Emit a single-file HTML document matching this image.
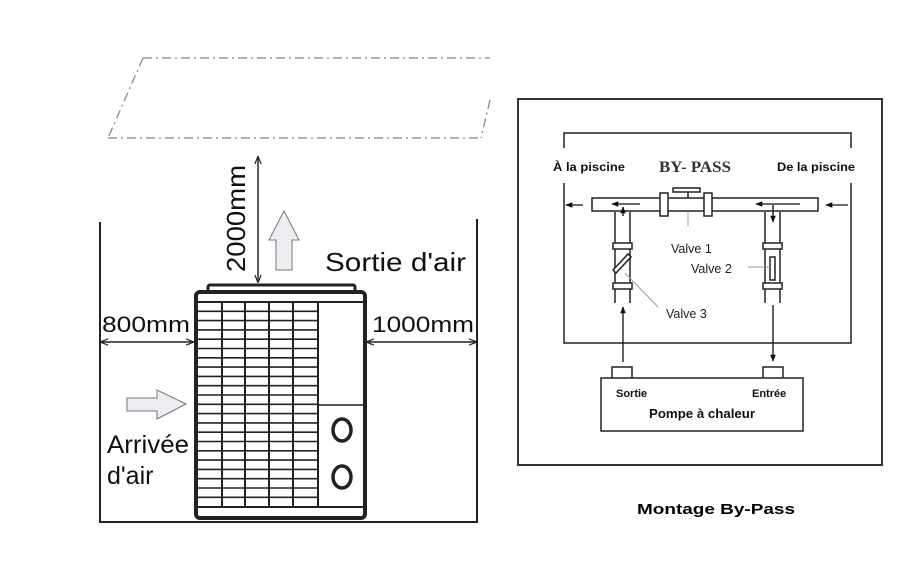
<!DOCTYPE html>
<html><head><meta charset="utf-8"><style>
html,body{margin:0;padding:0;background:#fff;}
svg{display:block;}
.s{font-family:"Liberation Sans",sans-serif;}
.b{font-family:"Liberation Sans",sans-serif;font-weight:bold;}
</style></head><body>
<svg width="920" height="583" viewBox="0 0 920 583" xmlns="http://www.w3.org/2000/svg">
<defs>
<marker id="ah" viewBox="0 0 10 10" refX="9" refY="5" markerWidth="8" markerHeight="8" orient="auto-start-reverse" markerUnits="userSpaceOnUse"><path d="M0,1 L10,5 L0,9" fill="none" stroke="#222" stroke-width="1.5"/></marker>
<marker id="fa" viewBox="0 0 10 10" refX="9" refY="5" markerWidth="7" markerHeight="7" orient="auto" markerUnits="userSpaceOnUse"><path d="M0,1 L10,5 L0,9 Z" fill="#111"/></marker>
</defs>
<!-- dashed parallelogram -->
<g stroke="#888" stroke-width="1.3" fill="none" stroke-dasharray="9,4,2,4">
<line x1="143" y1="58" x2="490" y2="58"/>
<line x1="108" y1="138" x2="478" y2="138"/>
<line x1="143" y1="58" x2="108" y2="138"/>
<line x1="490" y1="100" x2="481" y2="138"/>
</g>
<!-- walls -->
<g stroke="#222" stroke-width="2" fill="none">
<line x1="100" y1="222" x2="100" y2="523"/>
<line x1="477" y1="219" x2="477" y2="523"/>
<line x1="100" y1="522" x2="477" y2="522"/>
</g>
<!-- unit -->
<g stroke="#222" fill="none">
<rect x="208" y="285" width="147" height="8" rx="2" stroke-width="3" fill="#fff"/>
<rect x="196" y="292" width="169" height="226" rx="4" stroke-width="4" fill="#fff"/>
<line x1="197" y1="302" x2="364" y2="302" stroke-width="2"/>
<line x1="197" y1="507" x2="364" y2="507" stroke-width="2"/>
<line x1="318" y1="302" x2="318" y2="507" stroke-width="2"/>
<line x1="318" y1="405" x2="364" y2="405" stroke-width="1.5"/>
<line x1="222" y1="302" x2="222" y2="507" stroke-width="2"/>
<line x1="245" y1="302" x2="245" y2="507" stroke-width="2"/>
<line x1="269" y1="302" x2="269" y2="507" stroke-width="2"/>
<line x1="293" y1="302" x2="293" y2="507" stroke-width="2"/>
<path stroke-width="1.6" d="M197,311.3H318M197,320.6H318M197,329.9H318M197,339.2H318M197,348.5H318M197,357.8H318M197,367.1H318M197,376.4H318M197,385.7H318M197,395H318M197,404.3H318M197,413.6H318M197,422.9H318M197,432.2H318M197,441.5H318M197,450.8H318M197,460.1H318M197,469.4H318M197,478.7H318M197,488H318M197,497.3H318"/>
<ellipse cx="342" cy="430" rx="9" ry="11" stroke-width="3.5"/>
<ellipse cx="342" cy="477" rx="9" ry="11" stroke-width="3.5"/>
</g>
<!-- dimension arrows -->
<g stroke="#222" stroke-width="1.5" fill="none">
<line x1="258" y1="157" x2="258" y2="282" marker-start="url(#ah)" marker-end="url(#ah)"/>
<line x1="101" y1="342" x2="193" y2="342" marker-start="url(#ah)" marker-end="url(#ah)"/>
<line x1="367" y1="342" x2="476" y2="342" marker-start="url(#ah)" marker-end="url(#ah)"/>
</g>
<!-- hollow arrows -->
<path d="M276,270 L276,240 L269,240 L284,211 L299,240 L292,240 L292,270 Z" fill="#eceef2" stroke="#777" stroke-width="1"/>
<path d="M127,398 L157,398 L157,390 L186,404 L157,419 L157,411 L127,411 Z" fill="#eceef2" stroke="#777" stroke-width="1"/>
<!-- texts left -->
<text class="s" font-size="26" x="0" y="0" transform="translate(245,272) rotate(-90)" textLength="107" lengthAdjust="spacingAndGlyphs" fill="#111">2000mm</text>
<text class="s" font-size="26" x="325" y="271" textLength="141" lengthAdjust="spacingAndGlyphs" fill="#111">Sortie d'air</text>
<text class="s" font-size="22" x="102" y="332" textLength="88" lengthAdjust="spacingAndGlyphs" fill="#111">800mm</text>
<text class="s" font-size="22" x="372" y="332" textLength="102" lengthAdjust="spacingAndGlyphs" fill="#111">1000mm</text>
<text class="s" font-size="25" x="107" y="453" textLength="82" lengthAdjust="spacingAndGlyphs" fill="#111">Arrivée</text>
<text class="s" font-size="25" x="107" y="484" fill="#111">d'air</text>

<!-- right diagram -->
<rect x="518" y="99" width="364" height="366" fill="none" stroke="#333" stroke-width="2"/>
<g stroke="#222" stroke-width="1.5" fill="none">
<path d="M564,148 L564,133 L851,133 L851,148"/>
<path d="M564,183 L564,343 L851,343 L851,183"/>
<rect x="592" y="198" width="226" height="13" fill="#fff"/>
<rect x="660" y="193" width="8" height="23" fill="#fff"/>
<rect x="704" y="193" width="8" height="23" fill="#fff"/>
<rect x="673" y="188" width="27" height="4" fill="#fff"/>
<line x1="688" y1="192" x2="688" y2="198"/>
<line x1="615" y1="212" x2="615" y2="303"/><line x1="630" y1="212" x2="630" y2="303"/>
<line x1="765" y1="212" x2="765" y2="303"/><line x1="780" y1="212" x2="780" y2="303"/>
<rect x="613" y="243" width="19" height="6" fill="#fff"/>
<rect x="613" y="283" width="19" height="6" fill="#fff"/>
<rect x="763" y="243" width="19" height="6" fill="#fff"/>
<rect x="763" y="283" width="19" height="6" fill="#fff"/>
<path d="M613,270 L628,254 L631,257 L616,273 Z" fill="#fff"/>
<rect x="770" y="257" width="5" height="23"/>
<rect x="601" y="378" width="202" height="53"/>
<path d="M612,378 V367 H632 V378 M763,378 V367 H783 V378"/>
</g>
<g stroke="#999" stroke-width="1" fill="none">
<line x1="688" y1="211" x2="688" y2="226"/>
<line x1="748" y1="267" x2="770" y2="267"/>
<line x1="625" y1="273" x2="658" y2="307"/>
</g>
<g stroke="#111" stroke-width="1.3" fill="none">
<line x1="583" y1="205" x2="566" y2="205" marker-end="url(#fa)"/>
<line x1="848" y1="205" x2="826" y2="205" marker-end="url(#fa)"/>
<line x1="640" y1="204" x2="612" y2="204" marker-end="url(#fa)"/>
<line x1="800" y1="204" x2="756" y2="204" marker-end="url(#fa)"/>
<line x1="623" y1="216" x2="623" y2="207" marker-end="url(#fa)"/>
<line x1="773" y1="205" x2="773" y2="222" marker-end="url(#fa)"/>
<line x1="623" y1="362" x2="623" y2="307" marker-end="url(#fa)"/>
<line x1="773" y1="305" x2="773" y2="361" marker-end="url(#fa)"/>
</g>
<text class="b" font-size="11.5" x="553" y="171" textLength="72" lengthAdjust="spacingAndGlyphs" fill="#111">À la piscine</text>
<text font-family="Liberation Serif,serif" font-weight="bold" font-size="16" x="659" y="172" textLength="72" lengthAdjust="spacingAndGlyphs" fill="#333">BY- PASS</text>
<text class="b" font-size="11.5" x="777" y="171" textLength="78" lengthAdjust="spacingAndGlyphs" fill="#111">De la piscine</text>
<text class="s" font-size="12.5" x="671" y="253" fill="#222">Valve 1</text>
<text class="s" font-size="12.5" x="691" y="273" fill="#222">Valve 2</text>
<text class="s" font-size="12.5" x="666" y="318" fill="#222">Valve 3</text>
<text class="b" font-size="11" x="616" y="397" fill="#111">Sortie</text>
<text class="b" font-size="11" x="752" y="397" fill="#111">Entrée</text>
<text class="b" font-size="13" x="649" y="418" textLength="106" lengthAdjust="spacingAndGlyphs" fill="#111">Pompe à chaleur</text>
<text class="b" font-size="15" x="637" y="514" textLength="158" lengthAdjust="spacingAndGlyphs" fill="#000">Montage By-Pass</text>
</svg>
</body></html>
